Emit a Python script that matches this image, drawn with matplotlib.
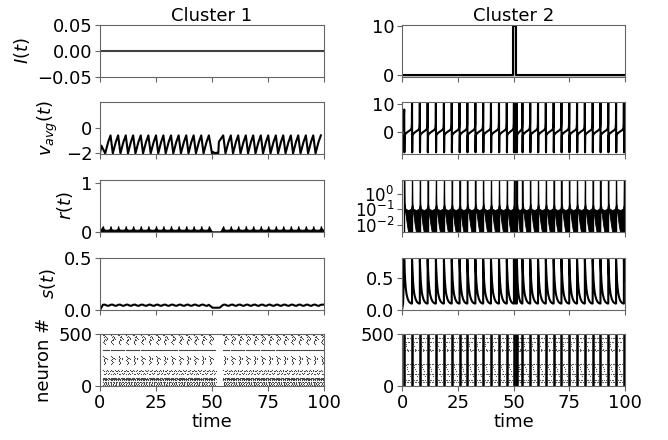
import numpy as np
import matplotlib
matplotlib.use("Agg")
import matplotlib.pyplot as plt

plt.rcParams['font.family'] = ['DejaVu Sans']
plt.rcParams['font.size'] = 13

# ---------------- data ----------------
t_range = [0, 100]
titles = ["Cluster 1", "Cluster 2"]
ylabels = ["$I(t)$", "$v_{avg}(t)$", "$r(t)$", "$s(t)$", "neuron #"]
xticks = [0, 25, 50, 75, 100]

# input current
c1_I_t = [0, 100]
c1_I_v = [0.0, 0.0]
c2_I_t = [0, 49.8, 49.8, 51.2, 51.2, 100]
c2_I_v = [0.0, 0.0, 10.0, 10.0, 0.0, 0.0]

# Cluster 1: times of the v_avg peaks (sawtooth)
c1_peaks = [1.3, 4.7, 8.1, 11.5, 14.8, 18.2, 21.6, 25.0, 28.3, 31.7, 35.1,
            38.5, 41.8, 45.2, 48.6, 55.0, 58.4, 61.7, 65.1, 68.4, 71.8,
            75.1, 78.5, 81.8, 85.2, 88.5, 91.9, 95.2, 98.6]
# one cycle of v_avg, cluster 1 (fraction of cycle, value)
c1_v_frac = [0.0, 0.30, 0.45, 0.7, 1.0]
c1_v_vals = [-0.6, -2.0, -1.65, -1.1, -0.6]
# one cycle of r envelope, cluster 1
c1_r_frac = [0.0, 0.08, 0.2, 0.5, 0.8, 0.92, 1.0]
c1_r_vals = [0.12, 0.07, 0.05, 0.045, 0.05, 0.07, 0.12]
# one cycle of s, cluster 1
c1_s_frac = [0.0, 0.25, 0.5, 0.75, 1.0]
c1_s_vals = [0.050, 0.052, 0.043, 0.040, 0.050]

# Cluster 2: spike times of the synchronous bursts
c2_spikes = [1.0, 4.5, 8.0, 11.5, 15.2, 18.8, 22.3, 25.8, 29.3, 32.9, 36.4,
             39.9, 43.5, 47.0, 50.2, 50.9, 51.5, 54.0, 57.5, 61.0, 64.5,
             68.0, 71.5, 75.0, 78.5, 82.0, 85.5, 89.0, 92.5, 96.0, 99.5]
# one cycle of v_avg, cluster 2 (fraction of inter-spike interval)
c2_v_frac = [0.0, 0.02, 0.05, 0.2, 0.4, 0.6, 0.8, 0.9, 0.95, 0.98, 1.0]
c2_v_vals = [10.7, -7.5, -1.3, -0.7, -0.2, 0.2, 0.6, 1.0, 1.5, 3.0, 10.7]
# one cycle of r, cluster 2 (upper and lower envelope of the dense trace)
c2_ru_frac = [0.0, 0.04, 0.15, 0.5, 0.85, 0.96, 1.0]
c2_ru_vals = [7.0, 0.25, 0.11, 0.09, 0.11, 0.2, 7.0]
c2_rl_frac = [0.0, 0.05, 0.35, 0.5, 1.0]
c2_rl_vals = [0.1, 0.08, 0.01, 0.0036, 0.0036]
# one cycle of s, cluster 2
c2_s_frac = [0.0, 0.05, 0.12, 0.2, 0.3, 0.45, 0.6, 0.75, 0.9, 1.0]
c2_s_vals = [0.78, 0.62, 0.45, 0.33, 0.24, 0.17, 0.13, 0.11, 0.10, 0.10]

# raster: per-cycle spike pattern of cluster 1 (time offset, neuron id)
c1_pat_dt = [0.0, 0.3, 0.7, 0.9, 0.7, 0.4, 0.2, 0.5, 1.1, 1.4, 1.7, 2.0, 1.2, 0.9,
             0.0, 0.8, 1.6, 2.4, 0.4, 1.2, 2.0, 2.8,
             0.2, 0.6, 0.9, 0.6, 0.3, 0.6, 1.0, 0.8, 0.4, 1.5, 1.8,
             0.0, 0.6, 1.2, 1.8, 2.4, 3.0, 0.3, 0.9, 1.5, 2.1, 2.7,
             0.0, 0.5, 1.0, 1.5, 2.0, 2.5, 3.0, 0.2, 0.9, 1.6, 2.3, 3.0,
             0.1, 0.6, 1.1, 1.6, 2.1, 2.6, 0.3, 1.3, 2.3, 0.0, 0.8, 1.6, 2.4,
             0.4, 1.4, 2.4, 0.2, 1.0, 1.8, 2.6]
c1_pat_n = [490, 486, 472, 456, 442, 432, 420, 410, 480, 470, 462, 450, 440, 400,
            350, 350, 350, 350, 345, 345, 345, 345,
            285, 280, 270, 258, 250, 240, 230, 220, 212, 270, 255,
            150, 140, 146, 152, 140, 146, 120, 115, 125, 118, 122,
            64, 64, 64, 64, 64, 64, 64, 40, 40, 40, 40, 40,
            80, 80, 80, 80, 80, 80, 20, 20, 20, 55, 55, 55, 55,
            30, 30, 30, 10, 10, 10, 10]
# raster: per-cycle pattern of cluster 2
c2_pat_dt = [0.6, 0.9, 1.2, 1.5, 0.8, 1.1, 1.4, 1.7, 2.0, 2.4,
             0.5, 1.2, 1.9, 2.6, 0.5, 1.2, 1.9, 2.6, 0.5, 1.2, 1.9, 2.6,
             0.5, 1.2, 1.9, 2.6, 0.5, 1.2, 1.9, 2.6, 0.9, 1.6, 2.3,
             0.9, 1.6, 2.3]
c2_pat_n = [400, 380, 360, 340, 200, 180, 160, 140, 120, 100,
            460, 460, 460, 460, 350, 350, 350, 350, 214, 214, 214, 214,
            113, 113, 113, 113, 35, 35, 35, 35, 420, 420, 420,
            60, 60, 60]


def tile_cycles(events, frac, vals, t1=100.0):
    """Repeat one read cycle shape between consecutive event times."""
    ts, vs = [], []
    ev = list(events) + [t1 + (events[-1] - events[-2])]
    for a, b in zip(ev[:-1], ev[1:]):
        ts.append(a + (b - a) * np.asarray(frac))
        vs.append(np.asarray(vals))
    t = np.concatenate(ts)
    v = np.concatenate(vs)
    m = t <= t1
    return t[m], v[m]


fig = plt.figure(figsize=(6.68, 4.4), dpi=100)
W, H = 668.0, 440.0
col_left = [100, 402]
col_w = [224, 223]
row_top = [25, 102, 180, 258, 334]
row_h = 52
axes = [[None, None] for _ in range(5)]
for r in range(5):
    for c in range(2):
        axes[r][c] = fig.add_axes([col_left[c] / W, 1 - (row_top[r] + row_h) / H,
                                   col_w[c] / W, row_h / H])

lw = 1.5
# ---- row 0: I(t)
ax = axes[0][0]
ax.plot(c1_I_t, c1_I_v, color='0.25', lw=lw)
ax.set_ylim(-0.05, 0.05)
ax.set_yticks([-0.05, 0.0, 0.05])
ax = axes[0][1]
ax.fill_between(c2_I_t, -0.35, c2_I_v, color='0.78', lw=0)
ax.plot(c2_I_t, c2_I_v, color='k', lw=lw)
ax.set_ylim(-0.35, 10.3)
ax.set_yticks([0, 10])

# ---- row 1: v_avg
tb, vb = tile_cycles(c1_peaks, c1_v_frac, c1_v_vals)
t = np.concatenate([[0.0, 0.6], tb[(tb > 1.3) & (tb < 49.5)],
                    [50.0, 50.6, 51.2, 52.0, 52.8], tb[tb >= 53.0]])
v_full = np.interp(t, tb, vb)
v_full[0], v_full[1] = -2.0, -1.4
pause_vals = [-2.0, -1.9, -2.0, -1.95, -2.0]
idx = np.where((t >= 50.0) & (t <= 52.8))[0]
v_full[idx] = pause_vals[:len(idx)]
axes[1][0].plot(t, v_full, color='k', lw=lw)
axes[1][0].set_ylim(-2.05, 2.0)
axes[1][0].set_yticks([-2, 0])

t2, v2 = tile_cycles(c2_spikes, c2_v_frac, c2_v_vals)
t2 = np.concatenate([[0.0, 0.5], t2])
v2 = np.concatenate([[0.0, 1.0], v2])
v2[2] = 8.0
axes[1][1].plot(t2, v2, color='k', lw=lw)
axes[1][1].set_ylim(-8.1, 10.7)
axes[1][1].set_yticks([0, 10])

# ---- row 2: r(t)
tr, rv = tile_cycles(c1_peaks, c1_r_frac, c1_r_vals)
tr = np.concatenate([[0.0], tr])
rv = np.concatenate([[0.03], rv])
rv = np.where((tr > 49.5) & (tr < 54.0), 0.012, rv)
axes[2][0].fill_between(tr, 0, rv, color='k', lw=0.8, edgecolor='k')
axes[2][0].set_ylim(0, 1.07)
axes[2][0].set_yticks([0, 1])

tu, ru = tile_cycles(c2_spikes, c2_ru_frac, c2_ru_vals)
tl, rl = tile_cycles(c2_spikes, c2_rl_frac, c2_rl_vals)
tt = np.unique(np.concatenate([tu, tl]))
axes[2][1].fill_between(tt, np.interp(tt, tl, rl), np.interp(tt, tu, ru),
                        color='k', lw=0.6, edgecolor='k')
axes[2][1].vlines(c2_spikes, 0.0036, 7.0, color='k', lw=1.0)
axes[2][1].set_yscale('log')
axes[2][1].set_ylim(0.0036, 7.5)
axes[2][1].set_yticks([0.01, 0.1, 1.0])
axes[2][1].set_yticklabels(['$10^{-2}$', '$10^{-1}$', '$10^{0}$'], fontsize=12)
axes[2][1].minorticks_off()

# ---- row 3: s(t)
ts, sv = tile_cycles(c1_peaks, c1_s_frac, c1_s_vals)
ts = np.concatenate([[0.0, 0.5], ts])
sv = np.concatenate([[0.0, 0.02], sv])
sv = np.where((ts > 50.0) & (ts < 55.0), 0.022, sv)
axes[3][0].plot(ts, sv, color='k', lw=lw)
axes[3][0].set_ylim(0, 0.5)
axes[3][0].set_yticks([0.0, 0.5])

ts2, sv2 = tile_cycles(c2_spikes, c2_s_frac, c2_s_vals)
ts2 = np.concatenate([[0.0, 0.5], ts2])
sv2 = np.concatenate([[0.0, 0.1], sv2])
axes[3][1].plot(ts2, sv2, color='k', lw=lw)
axes[3][1].set_ylim(0, 0.8)
axes[3][1].set_yticks([0.0, 0.5])

# ---- row 4: raster
rt, rn = [], []
for c in c1_peaks:
    for dt, n in zip(c1_pat_dt, c1_pat_n):
        rt.append(c + dt)
        rn.append(n)
rt = np.array(rt); rn = np.array(rn)
m = rt <= 100
axes[4][0].scatter(rt[m], rn[m], s=3, color='0.25', marker='.', lw=0)
axes[4][0].set_ylim(0, 500)
axes[4][0].set_yticks([0, 500])

rt, rn = [], []
for c in c2_spikes:
    for dt, n in zip(c2_pat_dt, c2_pat_n):
        rt.append(c + dt)
        rn.append(n)
rt = np.array(rt); rn = np.array(rn)
m = rt <= 100
axes[4][1].scatter(rt[m], rn[m], s=3, color='0.35', marker='.', lw=0)
axes[4][1].vlines(c2_spikes, 0, 500, color='k', lw=1.8)
axes[4][1].set_ylim(0, 500)
axes[4][1].set_yticks([0, 500])

for r in range(5):
    for c in range(2):
        ax = axes[r][c]
        ax.set_xlim(*t_range)
        ax.set_xticks(xticks)
        if r < 4:
            ax.set_xticklabels([])
        else:
            ax.set_xlabel("time", labelpad=1)
        for s in ax.spines.values():
            s.set_color('0.4')
        ax.tick_params(color='0.4', length=3.5, pad=2)
    axes[r][0].set_ylabel(ylabels[r])
for c in range(2):
    axes[0][c].set_title(titles[c], fontsize=13, pad=3)

fig.align_ylabels([axes[r][0] for r in range(5)])
fig.savefig("out.png", dpi=100)
